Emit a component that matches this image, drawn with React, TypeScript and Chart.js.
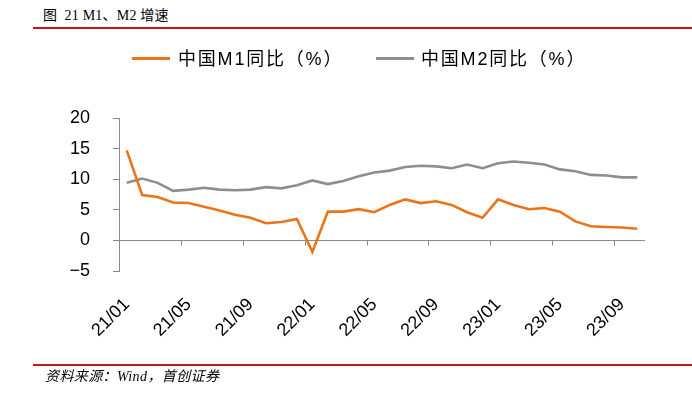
import React, { useEffect, useRef } from 'react';
import { Chart, registerables } from 'chart.js';

Chart.register(...registerables);

const categories = [
  '21/01', '21/02', '21/03', '21/04', '21/05', '21/06', '21/07', '21/08', '21/09', '21/10', '21/11', '21/12',
  '22/01', '22/02', '22/03', '22/04', '22/05', '22/06', '22/07', '22/08', '22/09', '22/10', '22/11', '22/12',
  '23/01', '23/02', '23/03', '23/04', '23/05', '23/06', '23/07', '23/08', '23/09', '23/10',
];
const m1Values = [
  14.7, 7.4, 7.1, 6.2, 6.1, 5.5, 4.9, 4.2, 3.7, 2.8, 3.0, 3.5,
  -1.9, 4.7, 4.7, 5.1, 4.6, 5.8, 6.7, 6.1, 6.4, 5.8, 4.6, 3.7,
  6.7, 5.8, 5.1, 5.3, 4.7, 3.1, 2.3, 2.2, 2.1, 1.9,
];
const m2Values = [
  9.4, 10.1, 9.4, 8.1, 8.3, 8.6, 8.3, 8.2, 8.3, 8.7, 8.5, 9.0,
  9.8, 9.2, 9.7, 10.5, 11.1, 11.4, 12.0, 12.2, 12.1, 11.8, 12.4, 11.8,
  12.6, 12.9, 12.7, 12.4, 11.6, 11.3, 10.7, 10.6, 10.3, 10.3,
];
const seriesNames = ['中国M1同比（%）', '中国M2同比（%）'];
const yMin = -5;
const yMax = 20;
const yStep = 5;
const labelEvery = 4;

const title = '图  21 M1、M2 增速';
const source = '资料来源：Wind，首创证券';

const ORANGE = '#EB7418';
const GRAY = '#8E8E8E';
const AXIS = '#8A8A8A';
const RED = '#C8161D';

const zeroAxisPlugin = {
  id: 'zeroAxis',
  beforeDatasetsDraw(chart: any) {
    const { ctx, chartArea, scales } = chart;
    const x = scales.x;
    const y = scales.y;
    const y0 = Math.round(y.getPixelForValue(0)) + 0.5;
    ctx.save();
    ctx.strokeStyle = AXIS;
    ctx.lineWidth = 1;
    ctx.beginPath();
    ctx.moveTo(chartArea.left, y0);
    ctx.lineTo(chartArea.right, y0);
    for (let i = labelEvery; i < categories.length; i += labelEvery) {
      const px = Math.round((x.getPixelForValue(i - 1) + x.getPixelForValue(i)) / 2) + 0.5;
      ctx.moveTo(px, y0);
      ctx.lineTo(px, y0 + 5);
    }
    ctx.stroke();
    ctx.restore();
  },
};

export default function App() {
  const canvasRef = useRef<HTMLCanvasElement | null>(null);

  useEffect(() => {
    const canvas = canvasRef.current;
    if (!canvas) return;
    const chart = new Chart(canvas, {
      type: 'line',
      data: {
        labels: categories,
        datasets: [
          {
            label: seriesNames[0],
            data: m1Values,
            borderColor: ORANGE,
            backgroundColor: ORANGE,
            borderWidth: 2.6,
            pointRadius: 0,
            tension: 0,
          },
          {
            label: seriesNames[1],
            data: m2Values,
            borderColor: GRAY,
            backgroundColor: GRAY,
            borderWidth: 2.6,
            pointRadius: 0,
            tension: 0,
          },
        ],
      },
      options: {
        responsive: false,
        animation: false,
        devicePixelRatio: 1,
        layout: { padding: { top: 118, right: 47, bottom: 0, left: 0 } },
        plugins: {
          legend: { display: false },
          tooltip: { enabled: false },
        },
        scales: {
          x: {
            type: 'category',
            offset: true,
            grid: { display: false, drawTicks: false },
            border: { display: false },
            ticks: {
              autoSkip: false,
              maxRotation: 45,
              minRotation: 45,
              padding: 23,
              color: '#000',
              font: { family: '"Liberation Sans", Arial, sans-serif', size: 18 },
              callback: (_v: any, i: number) => (i % labelEvery === 0 ? categories[i] : ''),
            },
            afterFit: (s: any) => {
              s.height = 128;
            },
          },
          y: {
            min: yMin,
            max: yMax,
            grid: { display: true, drawOnChartArea: false, drawTicks: true, tickLength: 6, color: AXIS },
            border: { display: true, color: AXIS, width: 1 },
            ticks: {
              stepSize: yStep,
              padding: 23,
              color: '#000',
              font: { family: '"Liberation Sans", Arial, sans-serif', size: 18 },
              callback: (v: any) => (Number(v) < 0 ? '−' + Math.abs(Number(v)) : String(v)),
            },
            afterFit: (s: any) => {
              s.width = 119;
            },
          },
        },
      },
      plugins: [zeroAxisPlugin],
    });
    return () => chart.destroy();
  }, []);

  const legendFont = '"Liberation Sans", "Noto Sans CJK SC", sans-serif';

  return (
    <div style={{ position: 'absolute', left: 0, top: 0, width: 692, height: 399, background: '#fff', overflow: 'hidden' }}>
      <div
        style={{
          position: 'absolute', left: 43, top: 7, fontSize: 14, whiteSpace: 'pre', letterSpacing: '0.2px',
          fontFamily: '"Liberation Serif", "Noto Sans CJK SC", serif', color: '#000', lineHeight: '18px',
        }}
      >
        {title}
      </div>
      <div style={{ position: 'absolute', left: 33, right: 0, top: 27, height: 2, background: RED }} />

      <canvas ref={canvasRef} width={692} height={399} style={{ position: 'absolute', left: 0, top: 0, width: 692, height: 399 }} />

      <div style={{ position: 'absolute', left: 132, top: 57, width: 38, height: 3, background: ORANGE }} />
      <div style={{ position: 'absolute', left: 178, top: 48, fontSize: 18, letterSpacing: '1.8px', lineHeight: '22px', fontFamily: legendFont, color: '#000', whiteSpace: 'pre' }}>
        {seriesNames[0]}
      </div>
      <div style={{ position: 'absolute', left: 376, top: 57, width: 38, height: 3, background: GRAY }} />
      <div style={{ position: 'absolute', left: 421, top: 48, fontSize: 18, letterSpacing: '1.8px', lineHeight: '22px', fontFamily: legendFont, color: '#000', whiteSpace: 'pre' }}>
        {seriesNames[1]}
      </div>

      <div style={{ position: 'absolute', left: 33, right: 0, top: 364, height: 2, background: RED }} />
      <div
        style={{
          position: 'absolute', left: 45, top: 368, fontSize: 14, fontStyle: 'italic', whiteSpace: 'pre', letterSpacing: '0.4px',
          fontFamily: '"Liberation Serif", "Noto Sans CJK SC", serif', color: '#000', lineHeight: '18px',
        }}
      >
        {source}
      </div>
    </div>
  );
}
